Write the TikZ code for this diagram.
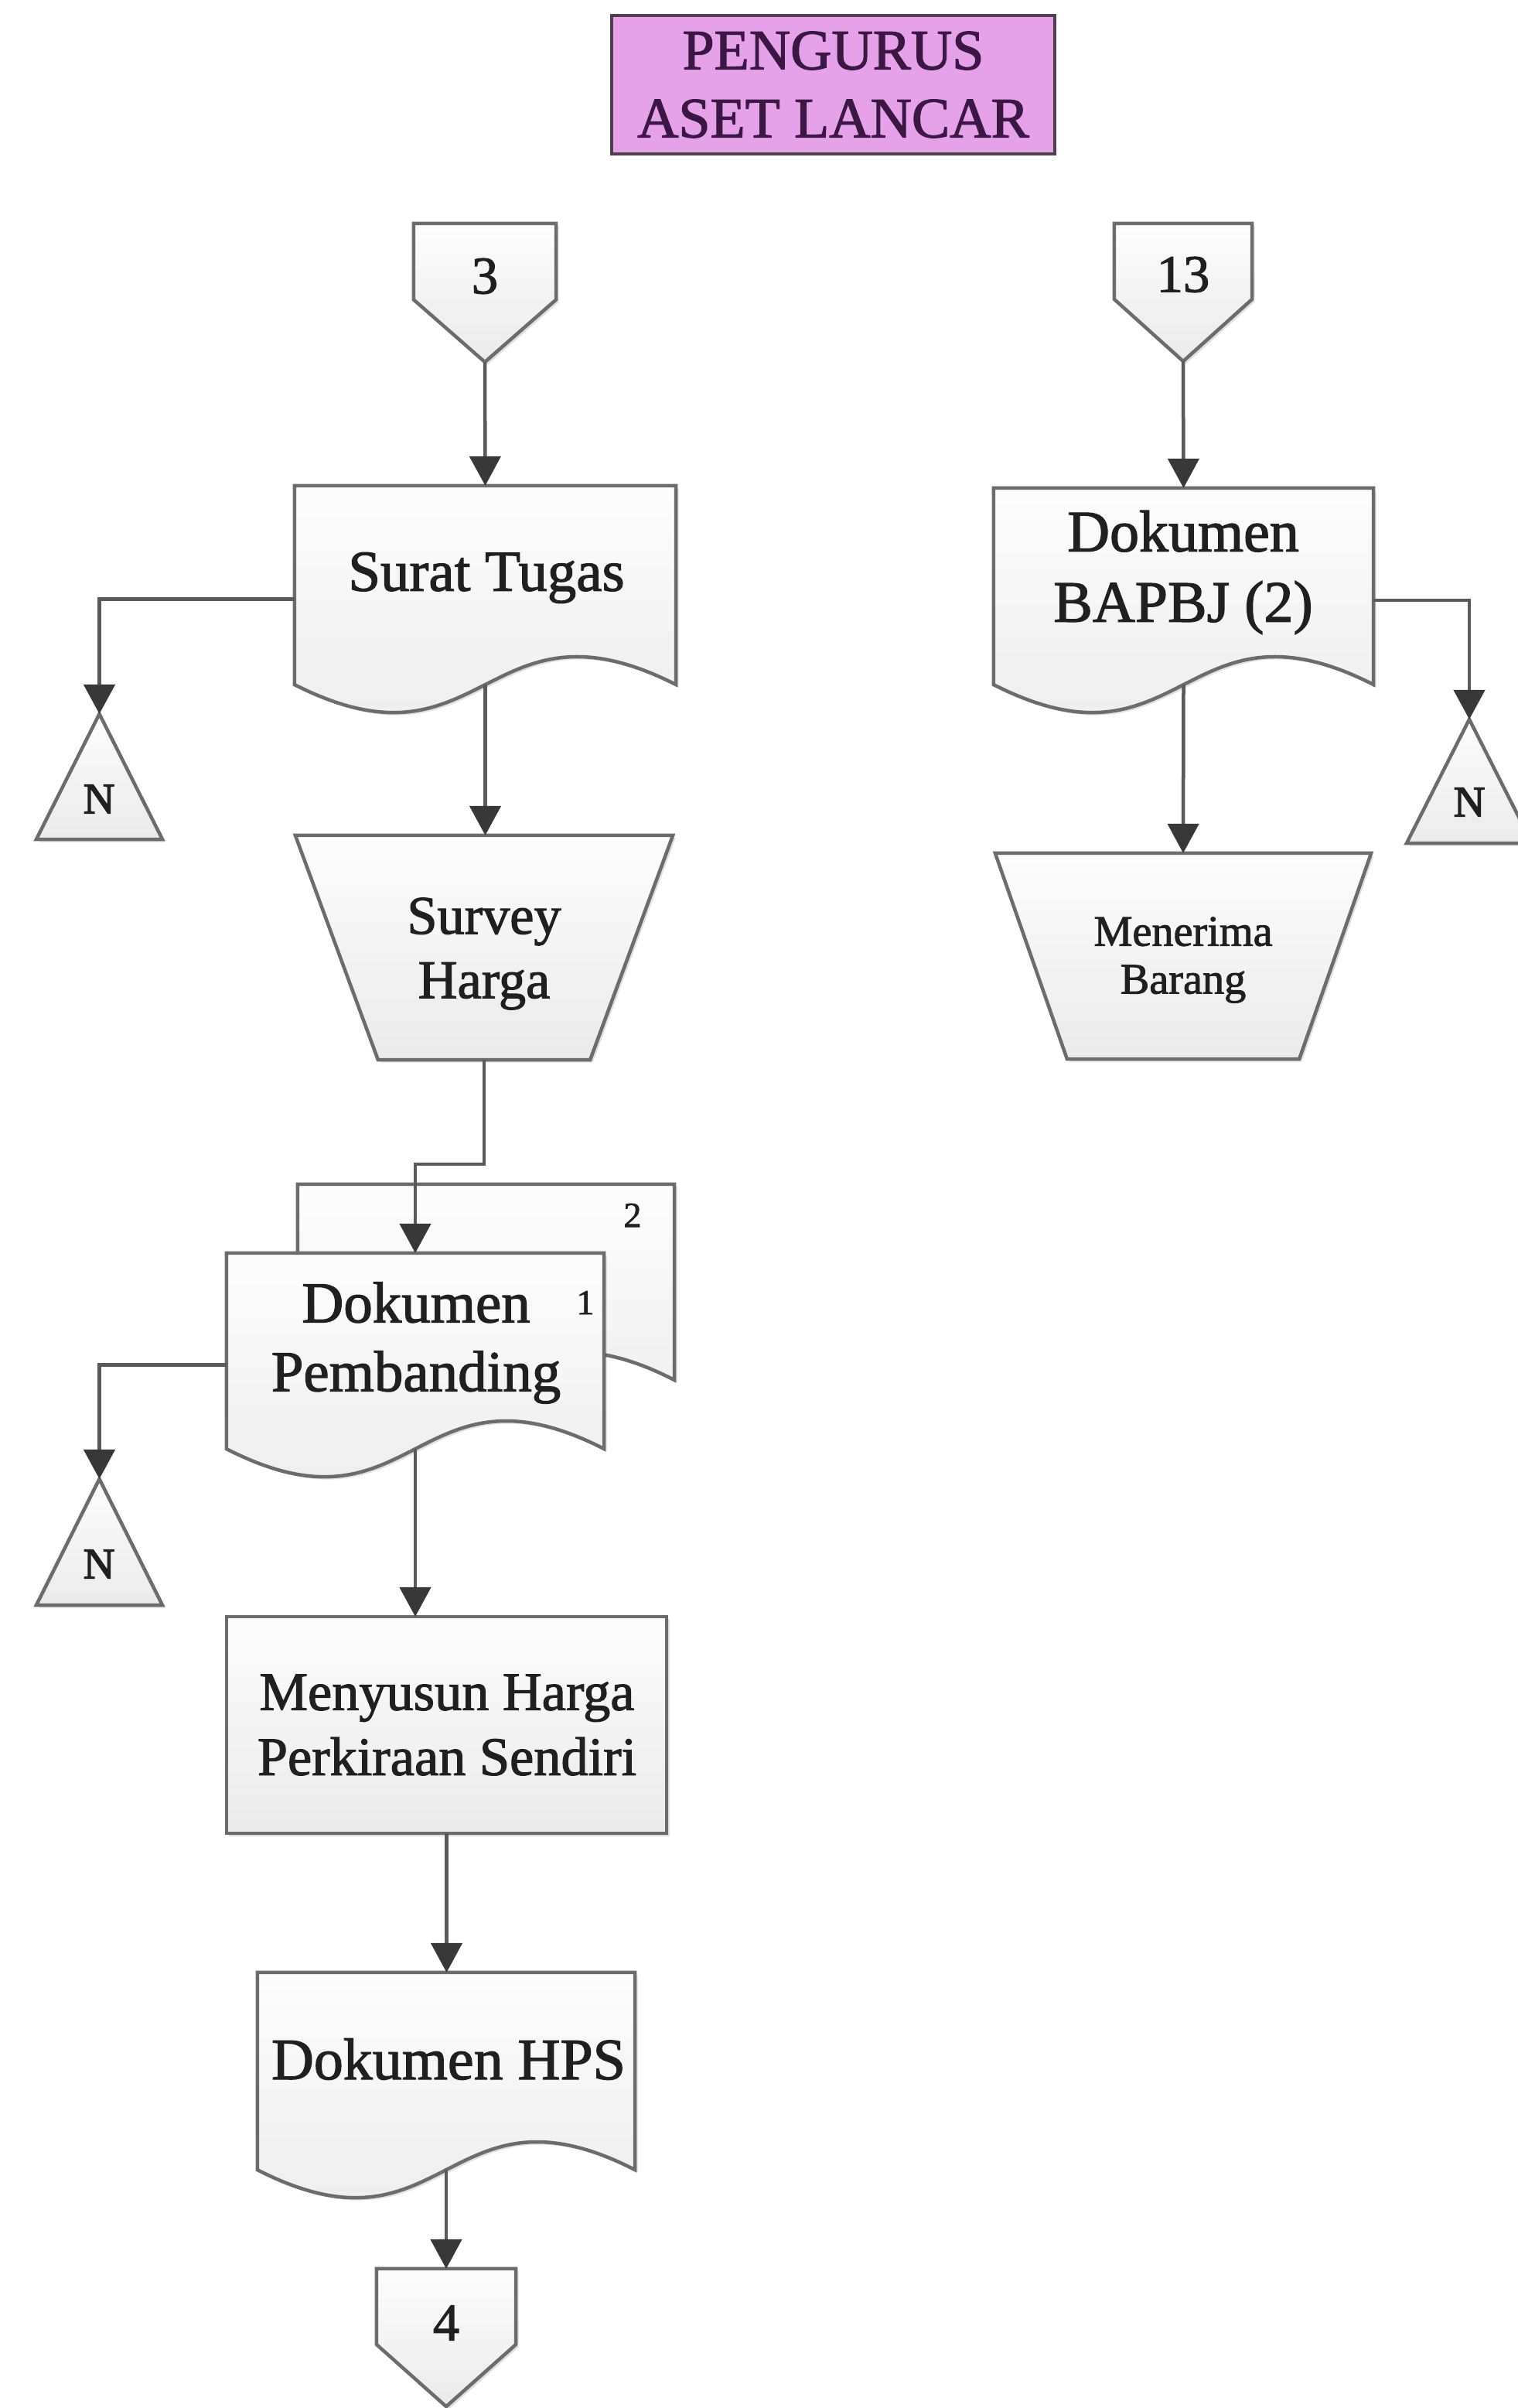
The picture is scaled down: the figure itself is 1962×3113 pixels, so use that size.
\documentclass[tikz,border=0pt]{standalone}
\usepackage{fontspec}
\setmainfont{Liberation Serif}[FakeBold=1.6]
\newfontfamily\heavyserif{Liberation Serif}[FakeBold=2.6]
\usetikzlibrary{arrows.meta,calc,shadows}

\definecolor{edge}{HTML}{6C6C6C}
\definecolor{wirec}{HTML}{5A5A5A}
\definecolor{tipc}{HTML}{383838}
\definecolor{ink}{HTML}{202020}
\definecolor{rose}{HTML}{E6A2E8}
\definecolor{plum}{HTML}{3A1842}
\definecolor{titleedge}{HTML}{4E404E}

\newcommand\setfs[2]{\fontsize{#1}{#2}\selectfont}

% off-page connector: rectangle with a downward point
\newcommand\offpage[1]{%
  \draw[outline] (#1.north west) -- (#1.north east)
    -- ($(#1.north east)!0.55!(#1.south east)$) -- (#1.south)
    -- ($(#1.north west)!0.55!(#1.south west)$) -- cycle;}
% document with a wavy lower edge
\newcommand\docpage[1]{%
  \draw[outline] (#1.north west) -- (#1.north east) -- (#1.south east)
    .. controls ($(#1.south)+(0,-125)$) and ($(#1.south)+(0,125)$) .. (#1.south west)
    -- cycle;}
% manual operation (trapezoid, wide side up)
\newcommand\manualop[2]{%
  \draw[outline] (#1.north west) -- (#1.north east)
    -- ($(#1.south east)+(-#2,0)$) -- ($(#1.south west)+(#2,0)$) -- cycle;}
% archive triangle
\newcommand\archive[1]{%
  \draw[outline] (#1.north) -- (#1.south east) -- (#1.south west) -- cycle;}

\begin{document}
\begin{tikzpicture}[x=0.01cm,y=-0.01cm,
  frame/.style={inner sep=0pt, outer sep=0pt, draw=none},
  outline/.style={draw=edge, line width=0.045cm, line join=miter,
    top color=gray!2, bottom color=gray!16,
    drop shadow={shadow xshift=0.035cm, shadow yshift=-0.035cm, opacity=0.12, fill=black}},
  wire/.style={draw=wirec, line width=0.045cm,
    -{Triangle[length=0.38cm,width=0.40cm,fill=tipc,color=tipc]}},
  txt/.style={inner sep=0pt, text=ink, align=center}]

\fill[white] (0,0) rectangle (1962,3113);
\useasboundingbox (0,0) rectangle (1962,3113);

% ---------- title ----------
\node[draw=titleedge, fill=rose, line width=0.04cm, minimum width=5.73cm,
  minimum height=1.79cm, inner sep=0pt, text=plum, align=center,
  font=\setfs{21}{25}] (title) at (1077.5,109.5) {PENGURUS\\ASET LANCAR};

% ---------- frames of the symbols ----------
\node[frame, minimum width=1.84cm, minimum height=1.79cm] (c3) at (627,378.5) {};
\node[frame, minimum width=4.93cm, minimum height=2.57cm] (surat) at (627.5,756.5) {};
\node[frame, minimum width=1.63cm, minimum height=1.62cm] (nA) at (128.5,1004) {};
\node[frame, minimum width=4.88cm, minimum height=2.90cm] (survey) at (626,1225) {};
\node[frame, minimum width=4.87cm, minimum height=2.53cm] (pemb2) at (628.5,1657.5) {};
\node[frame, minimum width=4.88cm, minimum height=2.53cm] (pemb) at (537,1746.5) {};
\node[frame, minimum width=1.63cm, minimum height=1.63cm] (nC) at (128.5,1993.5) {};
\node[frame, minimum width=5.69cm, minimum height=2.80cm] (menyusun) at (577.5,2230) {};
\node[frame, minimum width=4.88cm, minimum height=2.55cm] (hps) at (577,2677.5) {};
\node[frame, minimum width=1.80cm, minimum height=1.78cm] (c4) at (577,3022) {};

\node[frame, minimum width=1.78cm, minimum height=1.78cm] (c13) at (1530,378) {};
\node[frame, minimum width=4.91cm, minimum height=2.54cm] (bapbj) at (1530.5,758) {};
\node[frame, minimum width=1.62cm, minimum height=1.60cm] (nB) at (1900,1010) {};
\node[frame, minimum width=4.86cm, minimum height=2.66cm] (menerima) at (1530,1236) {};

% ---------- symbols ----------
\offpage{c3}
\docpage{surat}
\archive{nA}
\manualop{survey}{107}
\docpage{pemb2}
\docpage{pemb}
\archive{nC}
\draw[outline] (menyusun.north west) rectangle (menyusun.south east);
\docpage{hps}
\offpage{c4}

\offpage{c13}
\docpage{bapbj}
\archive{nB}
\manualop{menerima}{93}

% ---------- texts ----------
\node[txt, font=\setfs{19.5}{23}] (c3-t) at (627,357) {3};
\node[txt, font=\setfs{21.3}{25.6}] (surat-t) at (629,747) {Surat Tugas};
\node[txt, font=\heavyserif\setfs{16}{19}] (nA-t) at (128,1033) {N};
\node[txt, font=\setfs{20}{23.6}] (survey-t) at (626,1233) {Survey\\Harga};
\node[txt, font=\setfs{13}{15}] (pemb-n2) at (818,1571) {2};
\node[txt, font=\setfs{13}{15}] (pemb-n1) at (757,1684) {1};
\node[txt, font=\setfs{21.3}{25.3}] (pemb-t) at (538,1736) {Dokumen\\Pembanding};
\node[txt, font=\heavyserif\setfs{16}{19}] (nC-t) at (128,2022) {N};
\node[txt, font=\setfs{20}{23.9}] (menyusun-t) at (578,2230) {Menyusun Harga\\Perkiraan Sendiri};
\node[txt, font=\setfs{21.6}{26}] (hps-t) at (580,2662) {Dokumen HPS};
\node[txt, font=\setfs{19.5}{23}] (c4-t) at (577,3003) {4};

\node[txt, font=\setfs{19.5}{23}] (c13-t) at (1530,355) {13};
\node[txt, font=\setfs{21.6}{25.9}] (bapbj-t) at (1530,740) {Dokumen\\BAPBJ (2)};
\node[txt, font=\heavyserif\setfs{16}{19}] (nB-t) at (1900,1037) {N};
\node[txt, font=\setfs{16}{17.6}] (menerima-t) at (1530,1241) {Menerima\\Barang};

% ---------- flow lines ----------
\draw[wire] (c3.south) -- (surat.north);
\draw[wire] ($(surat.west)+(0,18)$) -| (nA.north);
\draw[wire] (surat.south) -- (surat.south |- survey.north);
\draw[wire] (survey.south) -- ++(0,135) -| (pemb.north);
\draw[wire] ($(pemb.west)+(0,18)$) -| (nC.north);
\draw[wire] (pemb.south) -- (pemb.south |- menyusun.north);
\draw[wire] (menyusun.south) -- (menyusun.south |- hps.north);
\draw[wire] (hps.south) -- (c4.north);

\draw[wire] (c13.south) -- (bapbj.north);
\draw[wire] ($(bapbj.east)+(0,18)$) -| (nB.north);
\draw[wire] (bapbj.south) -- (menerima.north);
\end{tikzpicture}
\end{document}
